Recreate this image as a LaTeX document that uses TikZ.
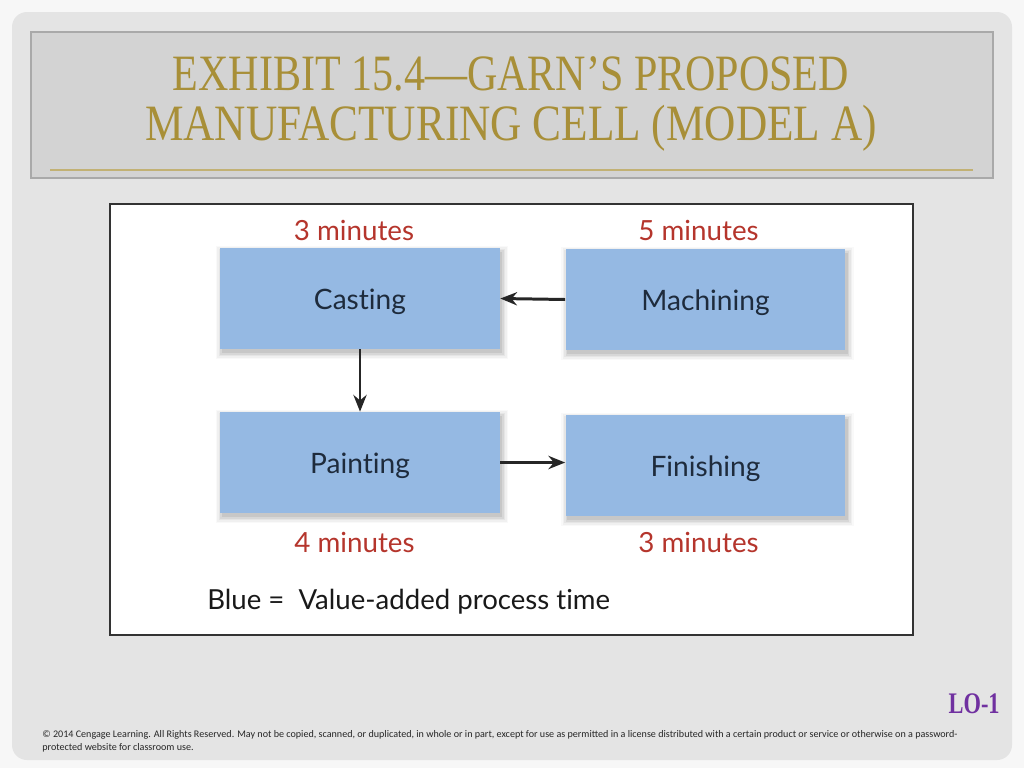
\documentclass[tikz,border=0pt]{standalone}
\usepackage{fontspec}
\setmainfont{Liberation Serif}
\newfontfamily\bodyfont[Ligatures=NoCommon]{Lato}
\newfontfamily\smallfont{Carlito}
\usetikzlibrary{arrows.meta,calc}
\pgfdeclarelayer{backlayer}
\pgfdeclarelayer{shadowlayer}
\pgfsetlayers{backlayer,shadowlayer,main}
\definecolor{slidebg}{HTML}{E4E4E4}
\definecolor{titlebg}{HTML}{D3D3D3}
\definecolor{titlegold}{HTML}{A88F38}
\definecolor{boxblue}{HTML}{95B9E3}
\definecolor{navytext}{HTML}{1E2B3C}
\definecolor{minred}{HTML}{B5352C}
\definecolor{lopurple}{HTML}{7030A0}
\newcommand{\boxtext}[1]{\raisebox{-6.3pt}[0pt][0pt]{#1}}
\tikzset{
  procbox/.style={fill=boxblue, minimum width=5.6cm, minimum height=2.02cm, inner sep=0pt,
    font=\bodyfont\fontsize{16}{18}\selectfont, text=navytext},
  minlabel/.style={font=\bodyfont\fontsize{15.8}{17}\selectfont, text=minred, inner sep=0pt},
  flow/.style={-{Stealth[length=9.5pt,width=7.5pt]}, line width=1.7pt, draw=black!85},
  titletext/.style={font=\fontsize{29}{28.45}\selectfont, text=titlegold, inner sep=0pt, align=center}
}
\begin{document}
\begin{tikzpicture}[x=0.02cm,y=-0.02cm]
\useasboundingbox (0,0) rectangle (1024,768);
\begin{pgfonlayer}{backlayer}
\fill[white!97!black] (0,0) rectangle (1024,768);
\fill[slidebg, rounded corners=0.3cm] (12,12) rectangle (1012,760);
\draw[titlebg!80!black, fill=titlebg, line width=0.6pt] (31,32) rectangle (993,178);
\draw[titlegold!70, line width=0.6pt] (50,170) -- (973,170);
\draw[black!80, fill=white, line width=0.7pt] (110,204) rectangle (913,635);
\end{pgfonlayer}
% title
\node[titletext] (title) at (511,104) {\scalebox{0.825}[1]{EXHIBIT 15.4—GARN’S PROPOSED}\\\scalebox{0.85}[1]{MANUFACTURING CELL (MODEL A)}};
% process boxes
\node[procbox] (casting) at (360,298.5) {\boxtext{Casting}};
\node[procbox] (machining) at (705.5,299.5) {\boxtext{Machining}};
\node[procbox] (painting) at (360,462.5) {\boxtext{Painting}};
\node[procbox] (finishing) at (705.5,465.5) {\boxtext{Finishing}};
% soft shadows
\begin{pgfonlayer}{shadowlayer}
\foreach \n in {casting,machining,painting,finishing}{
  \foreach \k/\o in {6/0.025,4.5/0.035,3/0.045,1.5/0.06,0/0.07}{
    \fill[black, opacity=\o] ($(\n.north west)+(2-\k,4-\k)$) rectangle ($(\n.south east)+(2+\k,4+\k)$);
  }
}
\end{pgfonlayer}
% time labels
\node[minlabel] (m1) at (354,230) {3 minutes};
\node[minlabel] (m2) at (698.5,230) {5 minutes};
\node[minlabel] (m3) at (354.5,542) {4 minutes};
\node[minlabel] (m4) at (698.5,542) {3 minutes};
% connectors
\draw[flow] (machining.west) -- (casting.east);
\draw[flow] (casting.south) -- (painting.north);
\draw[flow] (painting.east) -- (painting.east -| finishing.west);
% legend
\node[anchor=west, inner sep=0pt, font=\bodyfont\fontsize{15.7}{17}\selectfont, text=black!90] (legend) at (207,602) {Blue =\ \ Value-added process time};
% LO-1
\node[anchor=east, inner sep=0pt, font=\bfseries\fontsize{17}{19}\selectfont, text=lopurple] (lo) at (1000,704) {\scalebox{0.75}[1]{LO-1}};
% copyright
\node[anchor=north west, inner sep=0pt, align=left, font=\smallfont\fontsize{5.75}{7.2}\selectfont, text=black!85] (copy) at (42,730)
 {© 2014 Cengage Learning. All Rights Reserved. May not be copied, scanned, or duplicated, in whole or in part, except for use as permitted in a license distributed with a certain product or service or otherwise on a password-\\protected website for classroom use.};
\end{tikzpicture}
\end{document}
